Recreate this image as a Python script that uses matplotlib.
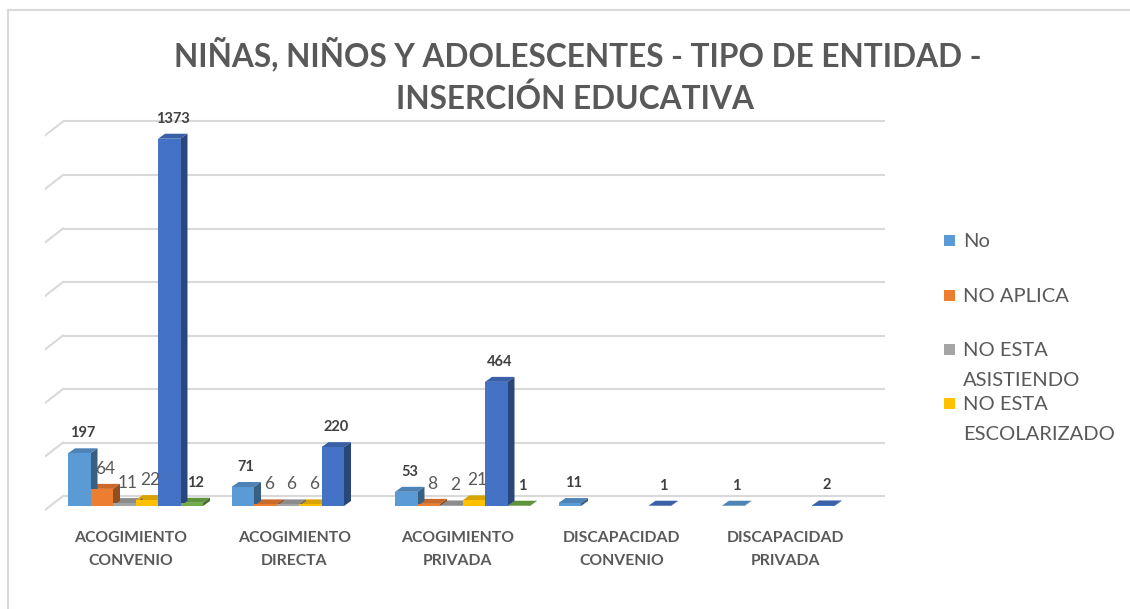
import numpy as np
import matplotlib.pyplot as plt
from matplotlib.patches import Polygon, Rectangle
from matplotlib.lines import Line2D
from matplotlib.colors import to_rgb

plt.rcParams['font.family'] = ['Lato', 'DejaVu Sans']

# Data
categories = ["ACOGIMIENTO\nCONVENIO", "ACOGIMIENTO\nDIRECTA", "ACOGIMIENTO\nPRIVADA",
              "DISCAPACIDAD\nCONVENIO", "DISCAPACIDAD\nPRIVADA"]
series_names = ["No", "NO APLICA", "NO ESTA ASISTIENDO", "NO ESTA ESCOLARIZADO",
                "SI", "SIN INFORMACIÓN"]
nan = np.nan
no_vals = [197, 71, 53, 11, 1]
no_aplica = [64, 6, 8, nan, nan]
no_asistiendo = [11, 6, 2, nan, nan]
no_escolarizado = [22, 6, 21, nan, nan]
si_vals = [1373, 220, 464, 1, 2]
sin_info = [12, nan, 1, nan, nan]
series_values = [no_vals, no_aplica, no_asistiendo, no_escolarizado, si_vals, sin_info]
legend_shown = 4  # legend in the original is cut after 4 entries

colors = ["#5B9BD5", "#ED7D31", "#A5A5A5", "#FFC000", "#4472C4", "#70AD47"]
bold_labels = [True, False, False, False, True, True]
gridline_values = np.arange(0, 1401, 200)

W, H = 1130, 609
fig = plt.figure(figsize=(W / 100, H / 100), dpi=100)
fig.patch.set_facecolor("white")

# axes placed in pixel units
ax = fig.add_axes([45 / W, (H - 515) / H, 840 / W, 397 / H])
ax.axis("off")
ux = 163.5          # px per category
uy = 53.5 / 200     # px per value unit
ax.set_xlim(-86 / ux, 754 / ux)
ax.set_ylim(-9 / uy, 388 / uy)

def px_x(p):
    return p / ux

def px_y(p):
    return p / uy

# back wall / floor gridlines (3D look)
wall_dy = px_y(10)
x_back_l, x_back_r = px_x(-68), px_x(754)
x_front_l = px_x(-86)
for v in gridline_values:
    yb = v + wall_dy
    ax.plot([x_back_l, x_back_r], [yb, yb], color="#D9D9D9", lw=1.5, zorder=1,
            solid_capstyle="butt")
    ax.plot([x_front_l, x_back_l], [yb - px_y(14), yb], color="#D9D9D9", lw=1.5,
            zorder=1)

# 3D-ish bars
w = px_x(22.5)
ddx, ddy = px_x(7), px_y(5)

def shade(c, f):
    r, g, b = to_rgb(c)
    return (r * f, g * f, b * f)

for j, vals in enumerate(series_values):
    col = colors[j]
    for i, v in enumerate(vals):
        if np.isnan(v):
            continue
        left = i - px_x(63) + j * w
        right = left + w
        top = Polygon([(left, v), (right, v), (right + ddx, v + ddy), (left + ddx, v + ddy)],
                      closed=True, facecolor=shade(col, 0.85), edgecolor="none", zorder=3)
        side = Polygon([(right, 0), (right + ddx, ddy), (right + ddx, v + ddy), (right, v)],
                       closed=True, facecolor=shade(col, 0.62), edgecolor="none", zorder=4)
        front = Rectangle((left, 0), w, v, facecolor=col, edgecolor="none", zorder=5)
        ax.add_patch(top)
        ax.add_patch(side)
        ax.add_patch(front)
        b = bold_labels[j]
        ax.text(left + w / 2 + ddx / 2, v + px_y(20), f"{int(v)}",
                ha="center", va="center", fontsize=10.5 if b else 12.5,
                fontweight="bold" if b else "normal",
                color="#404040" if b else "#595959", zorder=6)

# category labels
for i, cat in enumerate(categories):
    ax.text(i, -16 / 397, cat, transform=ax.get_xaxis_transform(), ha="center", va="top",
            fontsize=11.3, fontweight="bold", color="#595959", linespacing=1.8)

# title
fig.text(0.511, 1 - 54 / H, "NIÑAS, NIÑOS Y ADOLESCENTES - TIPO DE ENTIDAD -",
         ha="center", va="center", fontsize=22.8, fontweight="bold", color="#595959")
fig.text(0.509, 1 - 99 / H, "INSERCIÓN EDUCATIVA",
         ha="center", va="center", fontsize=22.8, fontweight="bold", color="#595959")

# legend (manual, wrapped names)
leg_y = [241, 296, 350, 404]
for k in range(legend_shown):
    y = leg_y[k]
    fig.add_artist(Rectangle((944 / W, 1 - (y + 5) / H), 11 / W, 11 / H,
                             transform=fig.transFigure, facecolor=colors[k],
                             edgecolor="none"))
    name = series_names[k].replace("NO ESTA ", "NO ESTA\n")
    fig.text(963 / W, 1 - (y - 8) / H, name, ha="left", va="top", fontsize=14.5,
             color="#595959", linespacing=1.95)

# chart border
fig.add_artist(Line2D([8 / W, 8 / W], [1 - 10 / H, 0], transform=fig.transFigure,
                      color="#D9D9D9", lw=1.5))
fig.add_artist(Line2D([8 / W, 1], [1 - 10 / H, 1 - 10 / H], transform=fig.transFigure,
                      color="#D9D9D9", lw=1.5))

fig.savefig("out.png", dpi=100, facecolor="white")
